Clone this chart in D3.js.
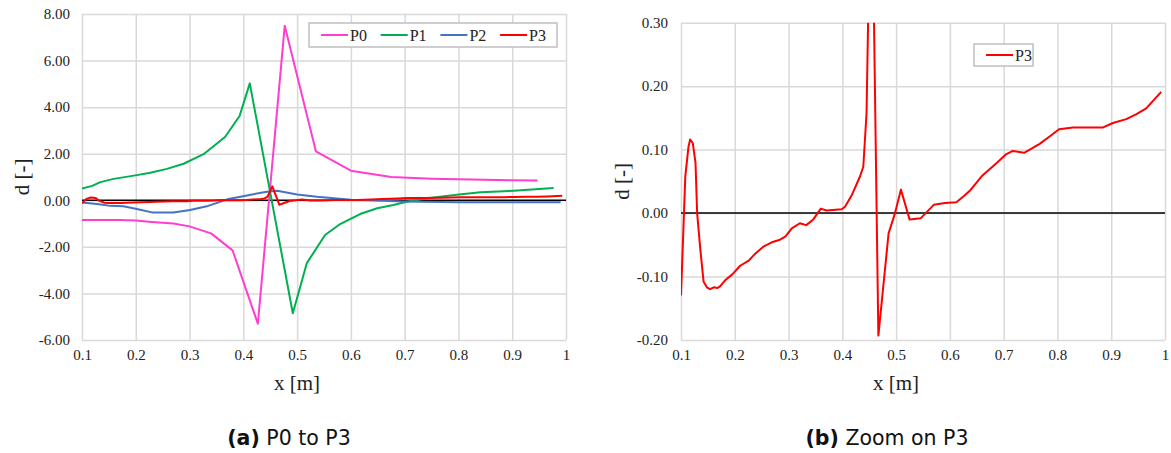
<!DOCTYPE html>
<html>
<head>
<meta charset="utf-8">
<script src="https://cdn.jsdelivr.net/npm/d3@7"></script>
<style>
  html, body { margin: 0; padding: 0; background: #fff; }
  svg { display: block; }
  .axis-title { font-family: "Liberation Serif", serif; font-size: 21px; fill: #222; }
  .legend text { font-family: "Liberation Serif", serif; font-size: 16px; fill: #222; }
  .caption { font-family: "DejaVu Sans", sans-serif; font-size: 20.5px; fill: #111; }
</style>
</head>
<body>
<div id="chart"></div>
<script>
const xTicks = [0.1, 0.2, 0.3, 0.4, 0.5, 0.6, 0.7, 0.8, 0.9, 1];
const leftYTicks = [-6, -4, -2, 0, 2, 4, 6, 8];
const rightYTicks = [-0.2, -0.1, 0, 0.1, 0.2, 0.3];

const p0X = [0.1, 0.17, 0.2, 0.23, 0.27, 0.3, 0.34, 0.38, 0.427, 0.477, 0.535, 0.6, 0.675, 0.75, 0.8, 0.87, 0.947];
const p0Y = [-0.85, -0.85, -0.87, -0.93, -1.0, -1.12, -1.42, -2.15, -5.3, 7.5, 2.1, 1.27, 1.0, 0.93, 0.9, 0.87, 0.85];

const p1X = [0.1, 0.119, 0.134, 0.159, 0.202, 0.227, 0.258, 0.289, 0.326, 0.366, 0.393, 0.412, 0.492, 0.518, 0.552, 0.58, 0.617, 0.649, 0.679, 0.704, 0.742, 0.797, 0.841, 0.903, 0.977];
const p1Y = [0.51, 0.62, 0.78, 0.92, 1.08, 1.18, 1.35, 1.57, 1.98, 2.72, 3.62, 5.02, -4.85, -2.7, -1.49, -1.02, -0.59, -0.34, -0.2, -0.06, 0.09, 0.24, 0.34, 0.41, 0.53];

const p2X = [0.1, 0.128, 0.153, 0.177, 0.202, 0.23, 0.27, 0.301, 0.332, 0.37, 0.407, 0.444, 0.463, 0.5, 0.537, 0.6, 0.7, 0.8, 0.99];
const p2Y = [-0.1, -0.16, -0.24, -0.26, -0.37, -0.52, -0.52, -0.42, -0.26, 0.04, 0.21, 0.37, 0.41, 0.25, 0.15, 0.02, -0.05, -0.08, -0.08];

const p3X = [0.1, 0.108, 0.114, 0.117, 0.122, 0.127, 0.13, 0.136, 0.142, 0.148, 0.154, 0.161, 0.168, 0.173, 0.182, 0.195, 0.21, 0.226, 0.238, 0.253, 0.269, 0.284, 0.294, 0.306, 0.321, 0.333, 0.346, 0.36, 0.371, 0.399, 0.405, 0.418, 0.433, 0.439, 0.445, 0.454, 0.467, 0.486, 0.498, 0.509, 0.525, 0.546, 0.57, 0.591, 0.612, 0.625, 0.637, 0.659, 0.687, 0.705, 0.717, 0.738, 0.767, 0.786, 0.803, 0.829, 0.885, 0.903, 0.928, 0.947, 0.965, 0.993];
const p3Y = [-0.13, 0.058, 0.105, 0.116, 0.11, 0.079, 0.0, -0.058, -0.108, -0.117, -0.12, -0.117, -0.118, -0.115, -0.106, -0.097, -0.083, -0.075, -0.064, -0.053, -0.046, -0.042, -0.037, -0.024, -0.016, -0.019, -0.01, 0.007, 0.004, 0.006, 0.01, 0.029, 0.058, 0.073, 0.157, 0.6, -0.193, -0.032, 0.0, 0.037, -0.01, -0.008, 0.013, 0.016, 0.017, 0.026, 0.035, 0.058, 0.079, 0.093, 0.098, 0.095, 0.109, 0.121, 0.132, 0.135, 0.135, 0.142, 0.148, 0.156, 0.165, 0.191];

const seriesNames = ["P0", "P1", "P2", "P3"];
const seriesColors = ["#ff3dcf", "#00b050", "#4472c4", "#ff0000"];

const zip = (xs, ys) => xs.map((x, i) => ({ x, y: ys[i] }));
const series = {
  P0: zip(p0X, p0Y),
  P1: zip(p1X, p1Y),
  P2: zip(p2X, p2Y),
  P3: zip(p3X, p3Y),
};

const width = 1171;
const height = 453;

const svg = d3.select("#chart").append("svg")
  .attr("width", width)
  .attr("height", height);

function drawPanel(opt) {
  const { left, right, top, bottom } = opt.box;
  const innerW = right - left;
  const innerH = bottom - top;

  const x = d3.scaleLinear().domain([0.1, 1]).range([0, innerW]);
  const y = d3.scaleLinear().domain(opt.yDomain).range([innerH, 0]);

  const g = svg.append("g").attr("transform", `translate(${left},${top})`);

  g.append("defs").append("clipPath").attr("id", opt.id + "-clip")
    .append("rect").attr("width", innerW).attr("height", innerH);

  const gx = g.append("g")
    .attr("transform", `translate(0,${innerH})`)
    .call(d3.axisBottom(x).tickValues(xTicks).tickSize(-innerH).tickPadding(9)
      .tickFormat((d) => (d === 1 ? "1" : d.toFixed(1))));
  const gy = g.append("g")
    .call(d3.axisLeft(y).tickValues(opt.yTicks).tickSize(-innerW).tickPadding(opt.yPad)
      .tickFormat((d) => d.toFixed(2)));

  [gx, gy].forEach((a) => {
    a.attr("font-family", "'Liberation Serif', serif").attr("font-size", 15);
    a.select(".domain").remove();
    a.selectAll(".tick line").attr("stroke", "#d9d9d9").attr("stroke-width", 1.5);
    a.selectAll(".tick text").attr("fill", "#222");
  });

  g.append("line")
    .attr("x1", 0).attr("x2", innerW)
    .attr("y1", y(0)).attr("y2", y(0))
    .attr("stroke", "#000").attr("stroke-width", 1.5);

  const line = d3.line().x((d) => x(d.x)).y((d) => y(d.y));
  const plot = g.append("g").attr("clip-path", `url(#${opt.id}-clip)`);
  opt.names.forEach((name) => {
    plot.append("path")
      .attr("d", line(series[name]))
      .attr("fill", "none")
      .attr("stroke", seriesColors[seriesNames.indexOf(name)])
      .attr("stroke-width", 2)
      .attr("stroke-linejoin", "round");
  });

  // axis titles
  svg.append("text").attr("class", "axis-title")
    .attr("x", left + innerW / 2 - 27).attr("y", 390)
    .attr("text-anchor", "middle")
    .text("x [m]");
  svg.append("text").attr("class", "axis-title")
    .attr("transform", `translate(${opt.yTitleX},${top + innerH / 2}) rotate(-90)`)
    .attr("text-anchor", "middle")
    .text("d [-]");

  // legend
  const lg = svg.append("g").attr("class", "legend");
  const lb = opt.legend;
  lg.append("rect")
    .attr("x", lb.x).attr("y", lb.y).attr("width", lb.w).attr("height", lb.h)
    .attr("fill", "#fff").attr("stroke", "#bfbfbf").attr("stroke-width", 1.5);
  opt.names.forEach((name, i) => {
    const ix = lb.x + 12 + i * 59.7;
    const cy = lb.y + lb.h / 2;
    lg.append("line")
      .attr("x1", ix).attr("x2", ix + 27).attr("y1", cy).attr("y2", cy)
      .attr("stroke", seriesColors[seriesNames.indexOf(name)]).attr("stroke-width", 2);
    lg.append("text")
      .attr("x", ix + 29).attr("y", cy + 5.5)
      .text(name);
  });

  // caption
  const cap = svg.append("text").attr("class", "caption")
    .attr("x", opt.captionX).attr("y", 445)
    .attr("text-anchor", "middle");
  cap.append("tspan").attr("font-weight", "bold").text(opt.captionTag);
  cap.append("tspan").text(" " + opt.caption);
}

drawPanel({
  id: "left",
  box: { left: 82, right: 566, top: 14, bottom: 340 },
  yDomain: [-6, 8],
  yTicks: leftYTicks,
  yPad: 12,
  yTitleX: 29,
  names: ["P0", "P1", "P2", "P3"],
  legend: { x: 309, y: 23, w: 248, h: 24 },
  captionX: 289,
  captionTag: "(a)",
  caption: "P0 to P3",
});

drawPanel({
  id: "right",
  box: { left: 681, right: 1165, top: 22.7, bottom: 340 },
  yDomain: [-0.2, 0.3],
  yTicks: rightYTicks,
  yPad: 13,
  yTitleX: 629,
  names: ["P3"],
  legend: { x: 974, y: 44, w: 59, h: 22 },
  captionX: 887,
  captionTag: "(b)",
  caption: "Zoom on P3",
});
</script>
</body>
</html>
